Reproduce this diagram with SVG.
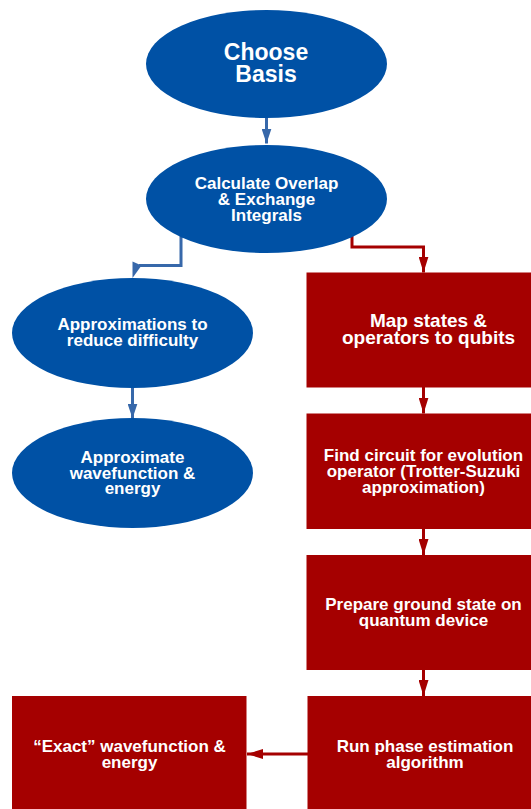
<svg xmlns="http://www.w3.org/2000/svg" width="531" height="809" viewBox="0 0 531 809">
<style>
.ell{fill:#0051A5}
.box{fill:#A50000}
.t{font-family:"Liberation Sans",Arial,sans-serif;font-weight:bold;fill:#FFFFFF;text-anchor:middle;font-size:17px}
.cb{fill:none;stroke:#3768AA;stroke-width:3}
.cr{fill:none;stroke:#A50000;stroke-width:3}
</style>
<defs>
<marker id="ab" viewBox="0 0 15 10" refX="15" refY="5" markerWidth="15" markerHeight="10" markerUnits="userSpaceOnUse" orient="auto">
<path d="M0,0 L15,5 L0,10 z" fill="#3768AA"/>
</marker>
<marker id="ar" viewBox="0 0 16 10" refX="16" refY="5" markerWidth="16" markerHeight="10" markerUnits="userSpaceOnUse" orient="auto">
<path d="M0,0 L16,5 L0,10 z" fill="#A50000"/>
</marker>
</defs>
<rect width="531" height="809" fill="#FFFFFF"/>
<g id="connectors">
<path class="cb" d="M266.5,116 V143.5" marker-end="url(#ab)"/>
<path class="cb" d="M181,236 V265.5 H139"/>
<polygon points="132.5,261.5 141.5,265.5 132.5,278" fill="#3768AA"/>
<path class="cb" d="M132.5,386 V418.5" marker-end="url(#ab)"/>
<path class="cr" d="M352,236 V247 H423.5 V272.5" marker-end="url(#ar)"/>
<path class="cr" d="M423.5,387 V413.5" marker-end="url(#ar)"/>
<path class="cr" d="M423.5,528 V555" marker-end="url(#ar)"/>
<path class="cr" d="M423.5,669 V696" marker-end="url(#ar)"/>
<path class="cr" d="M308,754 H247" marker-end="url(#ar)"/>
</g>
<g id="choose-basis">
<ellipse class="ell" cx="266.5" cy="64" rx="120.5" ry="54"/>
<text class="t" x="266" y="60" style="font-size:23px">Choose</text>
<text class="t" x="266" y="82" style="font-size:23px">Basis</text>
</g>
<g id="calculate-integrals">
<ellipse class="ell" cx="266.5" cy="199" rx="120.5" ry="54"/>
<text class="t" x="266.5" y="189">Calculate Overlap</text>
<text class="t" x="266.5" y="205">&amp; Exchange</text>
<text class="t" x="266.5" y="220.5">Integrals</text>
</g>
<g id="approximations">
<ellipse class="ell" cx="132.5" cy="333" rx="120.5" ry="55"/>
<text class="t" x="132.5" y="330">Approximations to</text>
<text class="t" x="132.5" y="346">reduce difficulty</text>
</g>
<g id="approximate-wavefunction">
<ellipse class="ell" cx="132.5" cy="473" rx="120.5" ry="55"/>
<text class="t" x="132.5" y="463">Approximate</text>
<text class="t" x="132.5" y="478.5">wavefunction &amp;</text>
<text class="t" x="132.5" y="494">energy</text>
</g>
<g id="map-states">
<rect class="box" x="306.5" y="272.5" width="235" height="115"/>
<text class="t" x="428.5" y="327" style="font-size:19px">Map states &amp;</text>
<text class="t" x="428.5" y="344" style="font-size:19px">operators to qubits</text>
</g>
<g id="find-circuit">
<rect class="box" x="306.5" y="413.5" width="235" height="115.5"/>
<text class="t" x="423.5" y="460.5">Find circuit for evolution</text>
<text class="t" x="423.5" y="476.8">operator (Trotter-Suzuki</text>
<text class="t" x="423.5" y="493">approximation)</text>
</g>
<g id="prepare-ground-state">
<rect class="box" x="306.5" y="555" width="235" height="115"/>
<text class="t" x="423.5" y="609.5">Prepare ground state on</text>
<text class="t" x="423.5" y="625.5">quantum device</text>
</g>
<g id="phase-estimation">
<rect class="box" x="307.5" y="696" width="235" height="120"/>
<text class="t" x="425" y="751.5">Run phase estimation</text>
<text class="t" x="425" y="767.5">algorithm</text>
</g>
<g id="exact-wavefunction">
<rect class="box" x="12" y="696" width="234.5" height="120"/>
<text class="t" x="129.5" y="751.5">“Exact” wavefunction &amp;</text>
<text class="t" x="129.5" y="767.5">energy</text>
</g>
</svg>
